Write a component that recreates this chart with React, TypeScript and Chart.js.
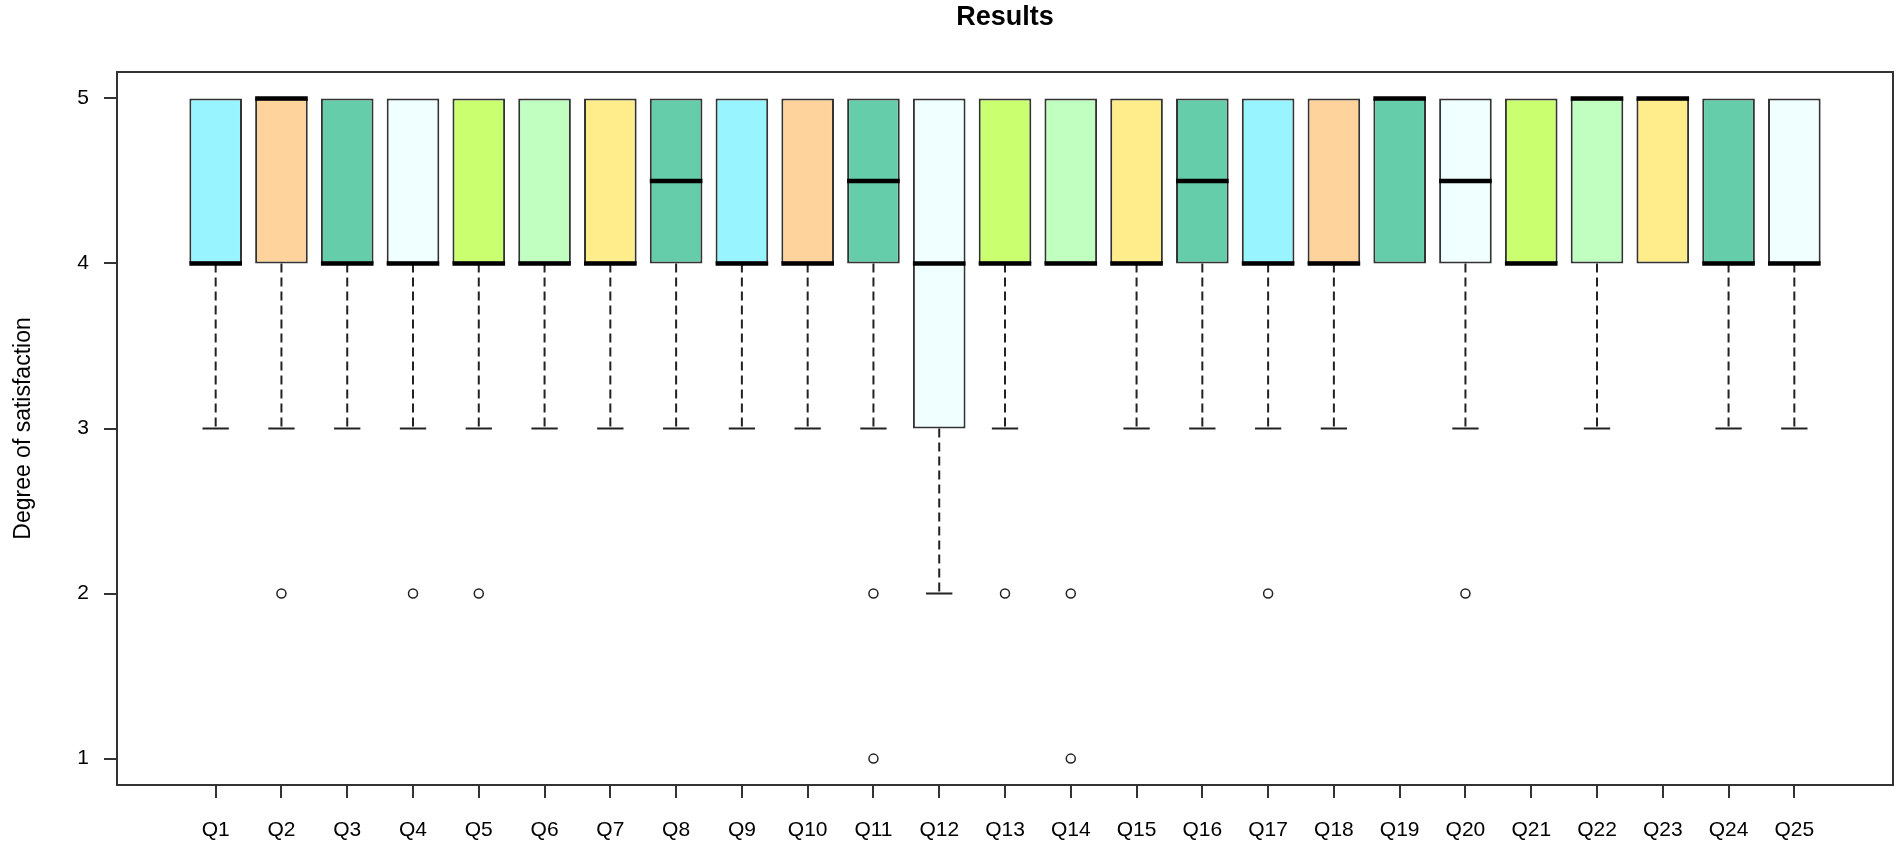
import { useEffect, useRef } from "react";
import { Chart, registerables } from "chart.js";

Chart.register(...registerables);

const questions = [
  "Q1", "Q2", "Q3", "Q4", "Q5", "Q6", "Q7", "Q8", "Q9", "Q10", "Q11", "Q12", "Q13",
  "Q14", "Q15", "Q16", "Q17", "Q18", "Q19", "Q20", "Q21", "Q22", "Q23", "Q24", "Q25",
];

const lowerQuartile = [4, 4, 4, 4, 4, 4, 4, 4, 4, 4, 4, 3, 4, 4, 4, 4, 4, 4, 4, 4, 4, 4, 4, 4, 4];
const medians = [4, 5, 4, 4, 4, 4, 4, 4.5, 4, 4, 4.5, 4, 4, 4, 4, 4.5, 4, 4, 5, 4.5, 4, 5, 5, 4, 4];
const upperQuartile = [5, 5, 5, 5, 5, 5, 5, 5, 5, 5, 5, 5, 5, 5, 5, 5, 5, 5, 5, 5, 5, 5, 5, 5, 5];
const lowerWhisker = [3, 3, 3, 3, 3, 3, 3, 3, 3, 3, 3, 2, 3, 4, 3, 3, 3, 3, 4, 3, 4, 3, 4, 3, 3];
const upperWhisker = [5, 5, 5, 5, 5, 5, 5, 5, 5, 5, 5, 5, 5, 5, 5, 5, 5, 5, 5, 5, 5, 5, 5, 5, 5];
const outliers: number[][] = [
  [], [2], [], [2], [2], [], [], [], [], [], [2, 1], [], [2],
  [2, 1], [], [], [2], [], [], [2], [], [], [], [], [],
];

const boxColors = [
  "#98F5FF", "#FFD39B", "#66CDAA", "#F0FFFF", "#CAFF70", "#C1FFC1", "#FFEC8B", "#66CDAA",
  "#98F5FF", "#FFD39B", "#66CDAA", "#F0FFFF", "#CAFF70", "#C1FFC1", "#FFEC8B", "#66CDAA",
  "#98F5FF", "#FFD39B", "#66CDAA", "#F0FFFF", "#CAFF70", "#C1FFC1", "#FFEC8B", "#66CDAA",
  "#F0FFFF",
];

const yTicks = [1, 2, 3, 4, 5];

const FONT = '"Liberation Sans", Arial, sans-serif';
const INK = "#222";
const BOX_HALF = 0.4; // boxwex 0.8
const CAP_HALF = 0.2; // staple half width

type Pt = { x: number; y: number | null };

function whiskerSegments(): Pt[] {
  const pts: Pt[] = [];
  questions.forEach((_, i) => {
    const x = i + 1;
    if (lowerWhisker[i] < lowerQuartile[i]) {
      pts.push({ x, y: lowerQuartile[i] }, { x, y: lowerWhisker[i] }, { x, y: null });
    }
    if (upperWhisker[i] > upperQuartile[i]) {
      pts.push({ x, y: upperQuartile[i] }, { x, y: upperWhisker[i] }, { x, y: null });
    }
  });
  return pts;
}

function capSegments(): Pt[] {
  const pts: Pt[] = [];
  questions.forEach((_, i) => {
    const x = i + 1;
    if (lowerWhisker[i] < lowerQuartile[i]) {
      pts.push({ x: x - CAP_HALF, y: lowerWhisker[i] }, { x: x + CAP_HALF, y: lowerWhisker[i] }, { x, y: null });
    }
    if (upperWhisker[i] > upperQuartile[i]) {
      pts.push({ x: x - CAP_HALF, y: upperWhisker[i] }, { x: x + CAP_HALF, y: upperWhisker[i] }, { x, y: null });
    }
  });
  return pts;
}

function medianSegments(): Pt[] {
  const pts: Pt[] = [];
  medians.forEach((m, i) => {
    const x = i + 1;
    pts.push({ x: x - BOX_HALF, y: m }, { x: x + BOX_HALF, y: m }, { x, y: null });
  });
  return pts;
}

const framePlugin = {
  id: "frame",
  afterDatasetsDraw(chart: Chart) {
    const { ctx, chartArea: a } = chart;
    ctx.save();
    ctx.strokeStyle = "#333";
    ctx.lineWidth = 2;
    ctx.strokeRect(a.left, a.top, a.right - a.left, a.bottom - a.top);
    ctx.restore();
  },
  afterDraw(chart: Chart) {
    const { ctx, chartArea: a } = chart;
    ctx.save();
    ctx.fillStyle = "#000";
    ctx.font = `bold 27px ${FONT}`;
    ctx.textAlign = "center";
    ctx.textBaseline = "middle";
    ctx.fillText("Results", (a.left + a.right) / 2, 18);
    ctx.restore();
  },
};

export default function App() {
  const canvasRef = useRef<HTMLCanvasElement>(null);

  useEffect(() => {
    document.body.style.margin = "0";
    if (!canvasRef.current) return;

    const chart = new Chart(canvasRef.current, {
      type: "bar",
      data: {
        datasets: [
          {
            type: "line",
            label: "outliers",
            order: 0,
            data: outliers.flatMap((vals, i) => vals.map((v) => ({ x: i + 1, y: v }))),
            showLine: false,
            pointStyle: "circle",
            pointRadius: 4.5,
            pointBackgroundColor: "#fff",
            pointBorderColor: INK,
            pointBorderWidth: 1.5,
          },
          {
            type: "line",
            label: "median",
            order: 1,
            data: medianSegments(),
            borderColor: "#000",
            borderWidth: 4.5,
            borderCapStyle: "butt",
            pointRadius: 0,
            spanGaps: false,
          },
          {
            type: "bar",
            label: "box",
            order: 2,
            data: questions.map((_, i) => ({ x: i + 1, y: [lowerQuartile[i], upperQuartile[i]] })),
            backgroundColor: boxColors,
            borderColor: "#333",
            borderWidth: 2,
            borderSkipped: false,
            barPercentage: 0.8,
            categoryPercentage: 1,
          },
          {
            type: "line",
            label: "whisker",
            order: 3,
            data: whiskerSegments(),
            borderColor: INK,
            borderWidth: 2,
            borderDash: [9, 5],
            pointRadius: 0,
            spanGaps: false,
          },
          {
            type: "line",
            label: "cap",
            order: 3,
            data: capSegments(),
            borderColor: INK,
            borderWidth: 2,
            pointRadius: 0,
            spanGaps: false,
          },
        ] as any,
      },
      options: {
        responsive: true,
        maintainAspectRatio: false,
        animation: false,
        layout: { padding: { top: 72, right: 9, left: 0, bottom: 0 } },
        plugins: { legend: { display: false }, tooltip: { enabled: false } },
        scales: {
          x: {
            type: "linear",
            min: -0.5,
            max: 26.5,
            offset: false,
            afterBuildTicks: (axis: any) => {
              axis.ticks = questions.map((_, i) => ({ value: i + 1 }));
            },
            afterFit: (axis: any) => {
              axis.height = 70;
            },
            ticks: {
              autoSkip: false,
              maxRotation: 0,
              padding: 20,
              color: "#000",
              font: { family: FONT, size: 21 },
              callback: (v: any) => questions[Number(v) - 1] ?? "",
            },
            grid: {
              offset: false,
              drawOnChartArea: false,
              drawTicks: true,
              tickLength: 13,
              color: "#333",
              lineWidth: 2,
            },
            border: { display: false },
          },
          y: {
            type: "linear",
            min: 0.84,
            max: 5.16,
            afterBuildTicks: (axis: any) => {
              axis.ticks = yTicks.map((v) => ({ value: v }));
            },
            afterFit: (axis: any) => {
              axis.width = 117;
            },
            ticks: {
              padding: 15,
              color: "#000",
              font: { family: FONT, size: 21 },
              callback: (v: any) => String(v),
            },
            grid: {
              drawOnChartArea: false,
              drawTicks: true,
              tickLength: 13,
              color: "#333",
              lineWidth: 2,
            },
            border: { display: false },
            title: {
              display: true,
              text: "Degree of satisfaction",
              color: "#000",
              font: { family: FONT, size: 23 },
              padding: { top: 10, bottom: 0 },
            },
          },
        },
      },
      plugins: [framePlugin],
    });

    return () => chart.destroy();
  }, []);

  return (
    <div style={{ width: 1902, height: 855, position: "relative", background: "#fff" }}>
      <canvas ref={canvasRef} />
    </div>
  );
}
